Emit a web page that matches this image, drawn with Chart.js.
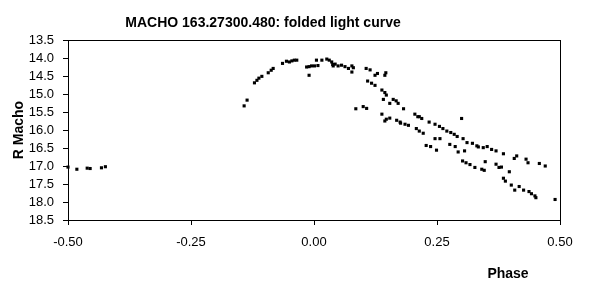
<!DOCTYPE html>
<html>
<head>
<meta charset="utf-8">
<script src="https://cdn.jsdelivr.net/npm/chart.js@4"></script>
<style>
    html, body { margin: 0; padding: 0; background: #fff; }
    #wrap { width: 589px; height: 293px; position: relative; }
</style>
</head>
<body>
<div id="wrap"><canvas id="lightCurve" width="589" height="293"></canvas></div>

<script>
// folded light curve: phase vs R magnitude
const phase = [
    -0.500, -0.482, -0.461, -0.455, -0.432, -0.424,
    -0.142, -0.136, -0.121, -0.116, -0.112, -0.106, -0.093, -0.087, -0.083,
    -0.064, -0.056, -0.050, -0.045, -0.040, -0.035,
    -0.015, -0.010, -0.005, 0.001, 0.008, -0.010,
    0.005, 0.016, 0.026, 0.031, 0.036, 0.038, 0.039,
    0.043, 0.049, 0.056, 0.063, 0.070, 0.077, 0.080, 0.077,
    0.106, 0.114, 0.124, 0.129, 0.146, 0.144,
    0.109, 0.117, 0.124, 0.138, 0.144, 0.147, 0.161, 0.167, 0.171, 0.182,
    0.141, 0.154,
    0.085, 0.100, 0.107,
    0.138, 0.147, 0.154, 0.168, 0.175, 0.185, 0.192,
    0.205, 0.211, 0.208,
    0.144, 0.176, 0.214, 0.219,
    0.234, 0.246, 0.255, 0.262, 0.270, 0.278, 0.285, 0.291, 0.300,
    0.214, 0.222,
    0.246, 0.256,
    0.228, 0.237, 0.249,
    0.276, 0.287, 0.293, 0.306,
    0.303, 0.311, 0.322, 0.331,
    0.302, 0.309, 0.317, 0.327,
    0.334, 0.344, 0.352, 0.361, 0.370, 0.385, 0.407, 0.412, 0.431, 0.435, 0.458, 0.470,
    0.341, 0.346, 0.348, 0.370, 0.376, 0.381, 0.397,
    0.385, 0.389, 0.401, 0.408, 0.417, 0.426, 0.437, 0.442, 0.449, 0.451, 0.490
];
const rMacho = [
    17.03, 17.09, 17.06, 17.07, 17.05, 17.02,
    15.33, 15.17, 14.69, 14.62, 14.56, 14.51, 14.41, 14.34, 14.29,
    14.15, 14.09, 14.11, 14.08, 14.06, 14.06,
    14.25, 14.24, 14.22, 14.22, 14.21, 14.48,
    14.06, 14.06, 14.03, 14.06, 14.11, 14.18, 14.22,
    14.17, 14.22, 14.20, 14.24, 14.29, 14.22, 14.27, 14.39,
    14.29, 14.33, 14.48, 14.43, 14.41, 14.48,
    14.64, 14.70, 14.76, 14.89, 14.96, 15.03, 15.15, 15.19, 15.26, 15.41,
    15.15, 15.26,
    15.41, 15.35, 15.40,
    15.56, 15.70, 15.67, 15.73, 15.78, 15.84, 15.87,
    15.56, 15.63, 15.96,
    15.75, 15.81, 15.63, 15.68,
    15.78, 15.84, 15.90, 15.96, 16.03, 16.07, 16.12, 16.18, 15.68,
    16.03, 16.09,
    16.24, 16.24,
    16.43, 16.46, 16.56,
    16.40, 16.46, 16.61, 16.58,
    16.24, 16.35, 16.37, 16.44,
    16.86, 16.91, 16.96, 17.04,
    16.47, 16.49, 16.46, 16.54, 16.58, 16.66, 16.79, 16.72, 16.81, 16.91, 16.93, 17.00,
    17.09, 17.12, 16.88, 16.95, 17.04, 17.03, 17.16,
    17.34, 17.42, 17.53, 17.67, 17.57, 17.67, 17.71, 17.77, 17.83, 17.88, 17.93
];
const xTicks = [-0.50, -0.25, 0.00, 0.25, 0.50];
const yTicks = [13.5, 14.0, 14.5, 15.0, 15.5, 16.0, 16.5, 17.0, 17.5, 18.0, 18.5];
const chartTitle = 'MACHO 163.27300.480: folded light curve';
const xTitle = 'Phase';
const yTitle = 'R Macho';

const FONT = '"Liberation Sans", Arial, sans-serif';

// titles and the frame round the plot, drawn where Excel put them
const excelLook = {
    id: 'excelLook',
    beforeDatasetsDraw(chart) {
        const a = chart.chartArea;
        const c = chart.ctx;
        c.save();
        c.strokeStyle = '#000';
        c.lineWidth = 1;
        c.strokeRect(Math.round(a.left) + 0.5, Math.round(a.top) + 0.5,
            Math.round(a.right - a.left), Math.round(a.bottom - a.top));
        c.restore();
    },
    afterDraw(chart) {
        const c = chart.ctx;
        c.save();
        c.fillStyle = '#000';
        c.font = 'bold 14px ' + FONT;
        c.textAlign = 'center';
        c.textBaseline = 'middle';
        c.fillText(chartTitle, 263, 23);
        c.fillText(xTitle, 508, 274);
        c.translate(19, 130);
        c.rotate(-Math.PI / 2);
        c.fillText(yTitle, 0, 0);
        c.restore();
    }
};

const ctx = document.getElementById('lightCurve').getContext('2d');
new Chart(ctx, {
    type: 'scatter',
    data: {
        datasets: [{
            label: 'R Macho',
            data: phase.map((p, i) => ({ x: p, y: rMacho[i] })),
            pointStyle: 'rect',
            pointRadius: 2.2,
            borderWidth: 0,
            backgroundColor: '#000',
            borderColor: '#000',
            clip: false
        }]
    },
    options: {
        responsive: false,
        animation: false,
        layout: { padding: { left: 0, right: 29, top: 40, bottom: 0 } },
        plugins: {
            legend: { display: false },
            tooltip: { enabled: false }
        },
        scales: {
            x: {
                type: 'linear',
                min: -0.5,
                max: 0.5,
                afterFit: s => { s.height = 73; },
                afterBuildTicks: s => { s.ticks = xTicks.map(v => ({ value: v })); },
                grid: { drawOnChartArea: false, drawTicks: true, tickLength: 5, color: '#000' },
                border: { display: true, color: '#000' },
                ticks: {
                    color: '#000',
                    font: { family: FONT, size: 13 },
                    padding: 10,
                    maxRotation: 0,
                    autoSkip: false,
                    callback: v => v.toFixed(2)
                }
            },
            y: {
                type: 'linear',
                reverse: true,
                min: 13.5,
                max: 18.5,
                afterFit: s => { s.width = 68; },
                afterBuildTicks: s => { s.ticks = yTicks.map(v => ({ value: v })); },
                grid: { drawOnChartArea: false, drawTicks: true, tickLength: 5, color: '#000' },
                border: { display: true, color: '#000' },
                ticks: {
                    color: '#000',
                    font: { family: FONT, size: 13 },
                    padding: 9,
                    autoSkip: false,
                    callback: v => v.toFixed(1)
                }
            }
        }
    },
    plugins: [excelLook]
});
</script>
</body>
</html>
